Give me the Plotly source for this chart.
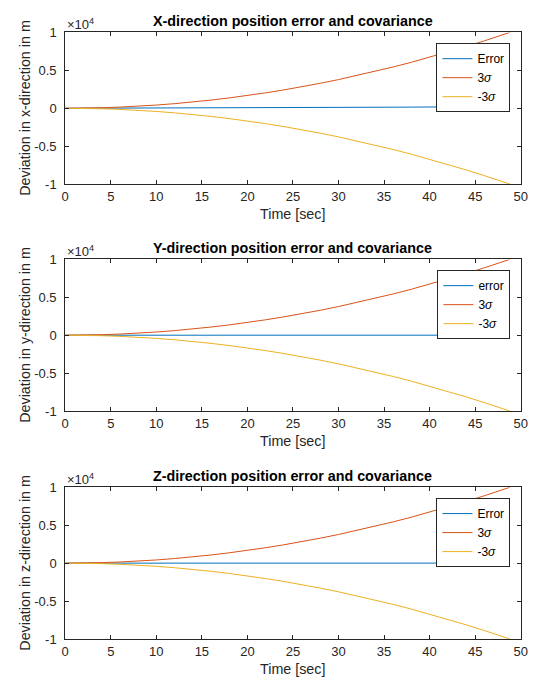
import plotly.graph_objects as go

# ---- data ----
time_s = [0, 2, 4, 6, 8, 10, 12, 14, 16, 18, 20, 22, 24, 26, 28, 30, 32, 34, 36, 38, 40, 42, 44, 46, 48, 48.8]

err_x = [0, 2, 6, 12, 18, 25, 32, 40, 48, 56, 65, 74, 83, 92, 101, 110, 120, 130, 140, 150, 162, 175, 190, 205, 222, 230]
sig3_x = [0, 17, 67, 151, 269, 420, 605, 823, 1075, 1360, 1680, 2032, 2419, 2838, 3292, 3779, 4300, 4854, 5442, 6063, 6718, 7407, 8130, 8885, 9675, 10000]

err_y = [0, 0, 0, 1, 1, 1, 1, 2, 2, 2, 2, 2, 3, 3, 3, 3, 3, 4, 4, 4, 4, 4, 5, 5, 5, 5]
sig3_y = [0, 17, 67, 151, 269, 420, 605, 823, 1075, 1360, 1680, 2032, 2419, 2838, 3292, 3779, 4300, 4854, 5442, 6063, 6718, 7407, 8130, 8885, 9675, 10000]

err_z = [0, 0, 0, 0, 1, 1, 1, 1, 1, 1, 2, 2, 2, 2, 2, 2, 2, 3, 3, 3, 3, 3, 3, 3, 4, 4]
sig3_z = [0, 17, 67, 151, 269, 420, 605, 823, 1075, 1360, 1680, 2032, 2419, 2838, 3292, 3779, 4300, 4854, 5442, 6063, 6718, 7407, 8130, 8885, 9675, 10000]

titles = ["X-direction position error and covariance",
          "Y-direction position error and covariance",
          "Z-direction position error and covariance"]
ylabels = ["Deviation in x-direction in m",
           "Deviation in y-direction in m",
           "Deviation in z-direction in m"]
err_names = ["Error", "error", "Error"]
xticks = [0, 5, 10, 15, 20, 25, 30, 35, 40, 45, 50]
yticks = [-10000, -5000, 0, 5000, 10000]
yticklabels = ["-1", "-0.5", "0", "0.5", "1"]

# ---- layout geometry (pixels) ----
W, H = 537, 690
x0px, x1px = 62.5, 527.5
tops = [26, 258, 491]
plot_h = 155

BLUE, ORANGE, YELLOW = "#0072BD", "#D95319", "#EDB120"
TXT = "#262626"
FONT = "Liberation Sans, Arial, Helvetica, sans-serif"

fig = go.Figure()
series = [(err_x, sig3_x), (err_y, sig3_y), (err_z, sig3_z)]
ann = []
layout_extra = {}
for i, (err, sig) in enumerate(series):
    n = "" if i == 0 else str(i + 1)
    leg = "legend" if i == 0 else "legend" + str(i + 1)
    xa, ya = "x" + n, "y" + n
    neg = [-v for v in sig]
    fig.add_trace(go.Scatter(x=time_s, y=err, mode="lines", name=err_names[i],
                             line=dict(color=BLUE, width=1), xaxis=xa, yaxis=ya, legend=leg))
    fig.add_trace(go.Scatter(x=time_s, y=sig, mode="lines", name="3<i>σ</i>",
                             line=dict(color=ORANGE, width=1), xaxis=xa, yaxis=ya, legend=leg))
    fig.add_trace(go.Scatter(x=time_s, y=neg, mode="lines", name="-3<i>σ</i>",
                             line=dict(color=YELLOW, width=1), xaxis=xa, yaxis=ya, legend=leg))
    top = tops[i]
    bot = top + plot_h
    ydom = [1 - bot / H, 1 - top / H]
    axcommon = dict(showline=True, linecolor=TXT, linewidth=1, mirror="ticks",
                    ticks="inside", ticklen=4, tickcolor=TXT, tickwidth=1,
                    showgrid=False, zeroline=False,
                    tickfont=dict(family=FONT, size=13, color=TXT))
    layout_extra["xaxis" + n] = dict(domain=[x0px / W, x1px / W], range=[0, 50],
                                     tickvals=xticks, anchor=ya, ticklabelstandoff=0,
                                     **axcommon)
    layout_extra["yaxis" + n] = dict(domain=ydom, range=[-10000, 10000],
                                     tickvals=yticks, ticktext=yticklabels, anchor=xa,
                                     ticklabelstandoff=5, **axcommon)
    layout_extra[leg] = dict(x=517 / W, xanchor="right", y=1 - (top + 11) / H, yanchor="top",
                             bgcolor="white", bordercolor=TXT, borderwidth=1,
                             font=dict(family=FONT, size=12, color="#000000"),
                             tracegroupgap=0)
    cx = (x0px + x1px) / 2 / W
    ann.append(dict(text="<b>" + titles[i] + "</b>", x=cx, y=1 - (top - 12) / H,
                    xref="paper", yref="paper", xanchor="center", yanchor="middle",
                    showarrow=False, font=dict(family=FONT, size=14.3, color="#000000")))
    ann.append(dict(text="×10<sup>4</sup>", x=62 / W, y=1 - (top - 9) / H,
                    xref="paper", yref="paper", xanchor="left", yanchor="middle",
                    showarrow=False, font=dict(family=FONT, size=13, color=TXT)))
    ann.append(dict(text="Time [sec]", x=cx, y=1 - (bot + 31) / H,
                    xref="paper", yref="paper", xanchor="center", yanchor="middle",
                    showarrow=False, font=dict(family=FONT, size=14.3, color=TXT)))
    ann.append(dict(text=ylabels[i], x=22 / W, y=1 - (top + plot_h / 2) / H,
                    xref="paper", yref="paper", xanchor="center", yanchor="middle",
                    textangle=-90, showarrow=False,
                    font=dict(family=FONT, size=14.3, color=TXT)))

fig.update_layout(width=W, height=H, margin=dict(l=0, r=0, t=0, b=0),
                  paper_bgcolor="white", plot_bgcolor="white",
                  annotations=ann, showlegend=True, **layout_extra)

fig.write_html("out.html")
